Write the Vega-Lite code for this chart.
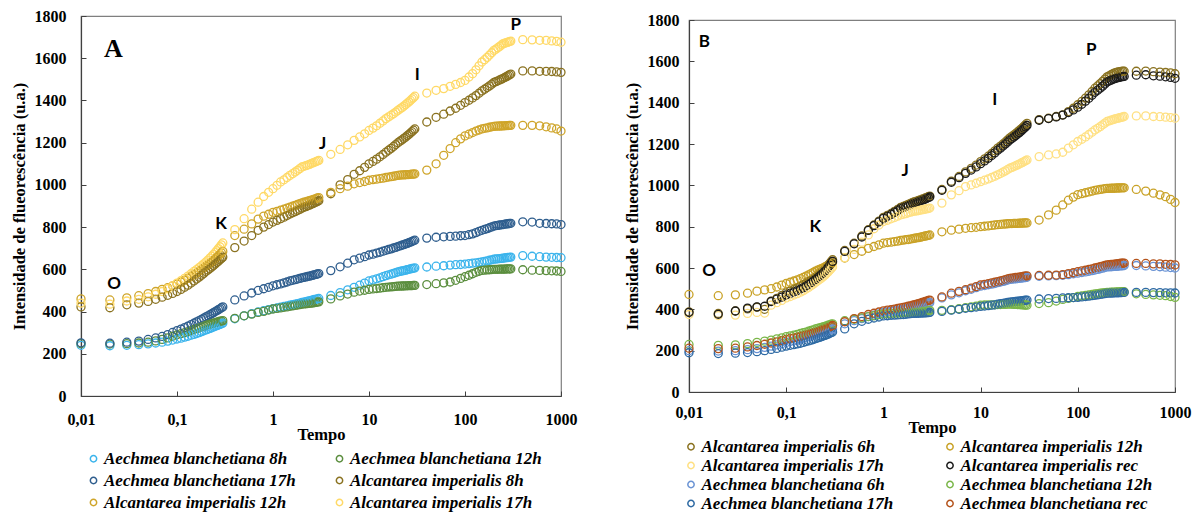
{
"$schema": "https://vega.github.io/schema/vega-lite/v6.json",
"background": "white",
"padding": {"left": 10, "top": 7, "right": 0, "bottom": 0},
"bounds": "flush",
"spacing": 128,
"center": true,
"resolve": {"scale": {"color": "independent", "x": "independent", "y": "independent"}, "legend": {"color": "independent"}},
"config": {
  "font": "Liberation Serif",
  "view": {"stroke": "#7f7f7f", "strokeWidth": 1.2},
  "axis": {"grid": false, "labelFont": "Liberation Serif", "labelFontWeight": "bold", "labelFontSize": 16, "labelColor": "#000", "titleFont": "Liberation Serif", "titleFontWeight": "bold", "titleFontSize": 16.5, "titleColor": "#000", "domainColor": "#404040", "domainWidth": 1.2, "tickColor": "#404040", "tickSize": -5},
  "legend": {"padding": 0, "labelFont": "Liberation Serif", "labelFontStyle": "italic", "labelFontWeight": "bold", "labelFontSize": 17, "labelColor": "#000", "labelLimit": 400, "symbolSize": 40, "symbolStrokeWidth": 1.5, "symbolType": "circle", "labelOffset": 2}
},
"datasets": {
"A": [
{"t":0.01,"a":240,"b":248,"c":252,"d":422,"e":460,"f":440},
{"t":0.02,"a":238,"b":246,"c":250,"d":418,"e":455,"f":435},
{"t":0.03,"a":240,"b":248,"c":255,"d":432,"e":465,"f":450},
{"t":0.04,"a":243,"b":251,"c":260,"d":440,"e":475,"f":458},
{"t":0.05,"a":247,"b":255,"c":268,"d":448,"e":485,"f":470},
{"t":0.06,"a":251,"b":261,"c":275,"d":458,"e":495,"f":482},
{"t":0.07,"a":255,"b":268,"c":282,"d":468,"e":505,"f":495},
{"t":0.08,"a":260,"b":275,"c":291,"d":477,"e":513,"f":508},
{"t":0.09,"a":265,"b":283,"c":301,"d":486,"e":522,"f":522},
{"t":0.10,"a":270,"b":290,"c":310,"d":495,"e":530,"f":535},
{"t":0.11,"a":274,"b":295,"c":317,"d":505,"e":539,"f":546},
{"t":0.12,"a":279,"b":300,"c":324,"d":515,"e":548,"f":557},
{"t":0.13,"a":283,"b":305,"c":331,"d":525,"e":557,"f":568},
{"t":0.14,"a":288,"b":310,"c":338,"d":535,"e":566,"f":579},
{"t":0.15,"a":292,"b":315,"c":345,"d":545,"e":575,"f":590},
{"t":0.16,"a":296,"b":319,"c":351,"d":554,"e":583,"f":599},
{"t":0.17,"a":300,"b":323,"c":357,"d":563,"e":591,"f":608},
{"t":0.18,"a":305,"b":327,"c":363,"d":572,"e":599,"f":617},
{"t":0.19,"a":309,"b":331,"c":369,"d":581,"e":607,"f":626},
{"t":0.20,"a":313,"b":335,"c":375,"d":590,"e":615,"f":635},
{"t":0.21,"a":316,"b":338,"c":380,"d":597,"e":622,"f":644},
{"t":0.22,"a":320,"b":340,"c":385,"d":604,"e":629,"f":653},
{"t":0.23,"a":323,"b":343,"c":390,"d":611,"e":636,"f":662},
{"t":0.24,"a":327,"b":345,"c":395,"d":618,"e":643,"f":671},
{"t":0.25,"a":330,"b":348,"c":400,"d":625,"e":650,"f":680},
{"t":0.26,"a":333,"b":350,"c":404,"d":632,"e":657,"f":689},
{"t":0.27,"a":336,"b":352,"c":409,"d":638,"e":664,"f":698},
{"t":0.28,"a":339,"b":354,"c":413,"d":645,"e":671,"f":707},
{"t":0.29,"a":342,"b":355,"c":418,"d":651,"e":678,"f":716},
{"t":0.30,"a":345,"b":357,"c":422,"d":658,"e":685,"f":725},
{"t":0.4,"a":366,"b":368,"c":455,"d":703,"e":760,"f":788},
{"t":0.5,"a":380,"b":380,"c":474,"d":734,"e":790,"f":840},
{"t":0.6,"a":390,"b":388,"c":488,"d":760,"e":815,"f":885},
{"t":0.7,"a":398,"b":396,"c":500,"d":785,"e":838,"f":918},
{"t":0.8,"a":404,"b":401,"c":508,"d":800,"e":852,"f":945},
{"t":0.9,"a":409,"b":407,"c":515,"d":812,"e":861,"f":965},
{"t":1.0,"a":414,"b":412,"c":522,"d":824,"e":870,"f":982},
{"t":1.1,"a":417,"b":415,"c":527,"d":832,"e":875,"f":998},
{"t":1.2,"a":421,"b":417,"c":531,"d":840,"e":880,"f":1014},
{"t":1.3,"a":424,"b":420,"c":536,"d":847,"e":885,"f":1024},
{"t":1.4,"a":427,"b":422,"c":540,"d":855,"e":890,"f":1035},
{"t":1.5,"a":430,"b":425,"c":545,"d":862,"e":895,"f":1045},
{"t":1.6,"a":433,"b":427,"c":548,"d":868,"e":899,"f":1053},
{"t":1.7,"a":435,"b":429,"c":551,"d":873,"e":903,"f":1061},
{"t":1.8,"a":438,"b":431,"c":554,"d":879,"e":907,"f":1069},
{"t":1.9,"a":440,"b":433,"c":557,"d":884,"e":911,"f":1077},
{"t":2.0,"a":443,"b":435,"c":560,"d":890,"e":915,"f":1085},
{"t":2.1,"a":445,"b":436,"c":562,"d":894,"e":918,"f":1088},
{"t":2.2,"a":447,"b":437,"c":564,"d":897,"e":920,"f":1091},
{"t":2.3,"a":449,"b":438,"c":566,"d":901,"e":923,"f":1094},
{"t":2.4,"a":451,"b":439,"c":568,"d":904,"e":925,"f":1097},
{"t":2.5,"a":453,"b":440,"c":570,"d":908,"e":928,"f":1101},
{"t":2.6,"a":455,"b":441,"c":572,"d":911,"e":930,"f":1104},
{"t":2.7,"a":457,"b":442,"c":574,"d":915,"e":933,"f":1107},
{"t":2.8,"a":458,"b":444,"c":576,"d":918,"e":935,"f":1110},
{"t":2.9,"a":460,"b":445,"c":578,"d":922,"e":938,"f":1113},
{"t":3.0,"a":462,"b":446,"c":580,"d":925,"e":940,"f":1116},
{"t":4,"a":476,"b":460,"c":594,"d":958,"e":965,"f":1145},
{"t":5,"a":490,"b":474,"c":612,"d":1000,"e":982,"f":1168},
{"t":6,"a":503,"b":483,"c":629,"d":1025,"e":994,"f":1190},
{"t":7,"a":515,"b":492,"c":645,"d":1050,"e":1005,"f":1211},
{"t":8,"a":525,"b":497,"c":653,"d":1067,"e":1011,"f":1227},
{"t":9,"a":535,"b":501,"c":660,"d":1083,"e":1016,"f":1242},
{"t":10,"a":545,"b":505,"c":668,"d":1100,"e":1022,"f":1258},
{"t":11,"a":550,"b":507,"c":672,"d":1111,"e":1025,"f":1269},
{"t":12,"a":555,"b":509,"c":677,"d":1122,"e":1027,"f":1280},
{"t":13,"a":560,"b":511,"c":681,"d":1133,"e":1030,"f":1292},
{"t":14,"a":565,"b":513,"c":686,"d":1144,"e":1032,"f":1303},
{"t":15,"a":570,"b":515,"c":690,"d":1155,"e":1035,"f":1314},
{"t":16,"a":574,"b":516,"c":694,"d":1164,"e":1037,"f":1322},
{"t":17,"a":577,"b":517,"c":697,"d":1173,"e":1039,"f":1330},
{"t":18,"a":581,"b":518,"c":701,"d":1182,"e":1041,"f":1337},
{"t":19,"a":584,"b":519,"c":704,"d":1191,"e":1043,"f":1345},
{"t":20,"a":588,"b":520,"c":708,"d":1200,"e":1045,"f":1353},
{"t":21,"a":590,"b":520,"c":711,"d":1207,"e":1046,"f":1360},
{"t":22,"a":592,"b":521,"c":714,"d":1213,"e":1047,"f":1366},
{"t":23,"a":594,"b":521,"c":717,"d":1220,"e":1047,"f":1373},
{"t":24,"a":596,"b":522,"c":720,"d":1226,"e":1048,"f":1380},
{"t":25,"a":598,"b":522,"c":723,"d":1233,"e":1049,"f":1387},
{"t":26,"a":600,"b":523,"c":726,"d":1239,"e":1049,"f":1393},
{"t":27,"a":602,"b":523,"c":729,"d":1246,"e":1050,"f":1400},
{"t":28,"a":604,"b":523,"c":732,"d":1252,"e":1051,"f":1407},
{"t":29,"a":605,"b":524,"c":735,"d":1259,"e":1051,"f":1413},
{"t":30,"a":607,"b":524,"c":738,"d":1265,"e":1052,"f":1420},
{"t":40,"a":611,"b":528,"c":748,"d":1298,"e":1070,"f":1435},
{"t":50,"a":615,"b":532,"c":752,"d":1320,"e":1100,"f":1448},
{"t":60,"a":617,"b":536,"c":754,"d":1335,"e":1140,"f":1456},
{"t":70,"a":620,"b":540,"c":756,"d":1350,"e":1172,"f":1467},
{"t":80,"a":622,"b":548,"c":757,"d":1363,"e":1200,"f":1476},
{"t":90,"a":623,"b":557,"c":759,"d":1377,"e":1218,"f":1485},
{"t":100,"a":625,"b":565,"c":760,"d":1390,"e":1232,"f":1495},
{"t":110,"a":627,"b":572,"c":764,"d":1401,"e":1240,"f":1511},
{"t":120,"a":629,"b":579,"c":768,"d":1412,"e":1248,"f":1527},
{"t":130,"a":631,"b":586,"c":774,"d":1423,"e":1255,"f":1545},
{"t":140,"a":633,"b":591,"c":780,"d":1434,"e":1260,"f":1564},
{"t":150,"a":635,"b":595,"c":785,"d":1445,"e":1265,"f":1582},
{"t":160,"a":638,"b":596,"c":789,"d":1453,"e":1268,"f":1593},
{"t":170,"a":640,"b":597,"c":793,"d":1461,"e":1270,"f":1604},
{"t":180,"a":643,"b":598,"c":797,"d":1469,"e":1273,"f":1615},
{"t":190,"a":645,"b":599,"c":801,"d":1477,"e":1275,"f":1626},
{"t":200,"a":648,"b":600,"c":805,"d":1485,"e":1277,"f":1637},
{"t":210,"a":649,"b":600,"c":807,"d":1489,"e":1278,"f":1643},
{"t":220,"a":650,"b":600,"c":808,"d":1493,"e":1278,"f":1650},
{"t":230,"a":651,"b":601,"c":810,"d":1497,"e":1279,"f":1656},
{"t":240,"a":652,"b":601,"c":811,"d":1501,"e":1279,"f":1663},
{"t":250,"a":653,"b":601,"c":812,"d":1505,"e":1280,"f":1669},
{"t":260,"a":654,"b":601,"c":814,"d":1509,"e":1280,"f":1671},
{"t":270,"a":655,"b":602,"c":815,"d":1513,"e":1281,"f":1674},
{"t":280,"a":656,"b":602,"c":816,"d":1517,"e":1281,"f":1676},
{"t":290,"a":657,"b":602,"c":817,"d":1521,"e":1282,"f":1679},
{"t":300,"a":658,"b":602,"c":818,"d":1525,"e":1282,"f":1681},
{"t":400,"a":665,"b":598,"c":825,"d":1540,"e":1282,"f":1688},
{"t":500,"a":662,"b":596,"c":824,"d":1540,"e":1282,"f":1687},
{"t":600,"a":660,"b":595,"c":818,"d":1538,"e":1280,"f":1685},
{"t":700,"a":658,"b":594,"c":817,"d":1538,"e":1275,"f":1685},
{"t":800,"a":657,"b":593,"c":816,"d":1537,"e":1270,"f":1682},
{"t":900,"a":656,"b":592,"c":815,"d":1535,"e":1265,"f":1680},
{"t":1000,"a":655,"b":590,"c":812,"d":1533,"e":1255,"f":1676}
],
"B": [
{"t":0.01,"g":388,"h":472,"i":375,"j":385,"k":200,"l":230,"m":190,"n":212},
{"t":0.02,"g":380,"h":466,"i":370,"j":376,"k":198,"l":226,"m":186,"n":210},
{"t":0.03,"g":392,"h":470,"i":372,"j":392,"k":200,"l":228,"m":188,"n":212},
{"t":0.04,"g":402,"h":478,"i":380,"j":406,"k":205,"l":234,"m":191,"n":218},
{"t":0.05,"g":410,"h":488,"i":385,"j":412,"k":210,"l":240,"m":195,"n":225},
{"t":0.06,"g":400,"h":494,"i":382,"j":415,"k":216,"l":246,"m":200,"n":231},
{"t":0.07,"g":440,"h":500,"i":420,"j":438,"k":222,"l":251,"m":206,"n":237},
{"t":0.08,"g":453,"h":508,"i":432,"j":449,"k":228,"l":257,"m":211,"n":243},
{"t":0.09,"g":467,"h":517,"i":443,"j":459,"k":234,"l":262,"m":217,"n":249},
{"t":0.10,"g":480,"h":525,"i":455,"j":470,"k":240,"l":268,"m":222,"n":255},
{"t":0.11,"g":488,"h":531,"i":462,"j":477,"k":244,"l":272,"m":226,"n":259},
{"t":0.12,"g":496,"h":537,"i":469,"j":484,"k":248,"l":275,"m":229,"n":262},
{"t":0.13,"g":504,"h":543,"i":476,"j":491,"k":252,"l":279,"m":233,"n":266},
{"t":0.14,"g":512,"h":549,"i":483,"j":498,"k":256,"l":283,"m":236,"n":269},
{"t":0.15,"g":520,"h":555,"i":490,"j":505,"k":260,"l":287,"m":240,"n":273},
{"t":0.16,"g":527,"h":561,"i":498,"j":513,"k":264,"l":290,"m":244,"n":276},
{"t":0.17,"g":534,"h":567,"i":506,"j":521,"k":268,"l":294,"m":247,"n":280},
{"t":0.18,"g":541,"h":573,"i":514,"j":529,"k":272,"l":298,"m":251,"n":283},
{"t":0.19,"g":548,"h":579,"i":522,"j":537,"k":276,"l":301,"m":254,"n":287},
{"t":0.20,"g":555,"h":585,"i":530,"j":545,"k":280,"l":305,"m":258,"n":290},
{"t":0.21,"g":563,"h":589,"i":537,"j":553,"k":283,"l":308,"m":261,"n":293},
{"t":0.22,"g":571,"h":593,"i":544,"j":561,"k":285,"l":310,"m":264,"n":296},
{"t":0.23,"g":579,"h":597,"i":551,"j":569,"k":288,"l":313,"m":268,"n":300},
{"t":0.24,"g":587,"h":601,"i":558,"j":577,"k":290,"l":315,"m":271,"n":303},
{"t":0.25,"g":595,"h":605,"i":565,"j":585,"k":293,"l":318,"m":274,"n":306},
{"t":0.26,"g":604,"h":609,"i":573,"j":594,"k":295,"l":320,"m":277,"n":309},
{"t":0.27,"g":613,"h":613,"i":581,"j":604,"k":298,"l":323,"m":280,"n":312},
{"t":0.28,"g":622,"h":617,"i":589,"j":613,"k":300,"l":325,"m":284,"n":316},
{"t":0.29,"g":631,"h":621,"i":597,"j":623,"k":303,"l":328,"m":287,"n":319},
{"t":0.30,"g":640,"h":625,"i":605,"j":632,"k":305,"l":330,"m":290,"n":322},
{"t":0.4,"g":685,"h":648,"i":650,"j":680,"k":330,"l":345,"m":305,"n":340},
{"t":0.5,"g":720,"h":665,"i":690,"j":717,"k":345,"l":352,"m":330,"n":355},
{"t":0.6,"g":755,"h":681,"i":725,"j":750,"k":355,"l":359,"m":342,"n":365},
{"t":0.7,"g":785,"h":695,"i":760,"j":782,"k":365,"l":365,"m":352,"n":375},
{"t":0.8,"g":808,"h":704,"i":790,"j":805,"k":372,"l":369,"m":358,"n":381},
{"t":0.9,"g":827,"h":712,"i":808,"j":823,"k":378,"l":374,"m":363,"n":387},
{"t":1.0,"g":845,"h":720,"i":825,"j":840,"k":385,"l":378,"m":368,"n":393},
{"t":1.1,"g":855,"h":723,"i":831,"j":850,"k":388,"l":379,"m":369,"n":396},
{"t":1.2,"g":864,"h":725,"i":838,"j":859,"k":390,"l":380,"m":371,"n":398},
{"t":1.3,"g":874,"h":728,"i":844,"j":869,"k":393,"l":381,"m":372,"n":401},
{"t":1.4,"g":883,"h":730,"i":851,"j":878,"k":395,"l":382,"m":373,"n":404},
{"t":1.5,"g":893,"h":733,"i":857,"j":888,"k":398,"l":383,"m":374,"n":407},
{"t":1.6,"g":898,"h":735,"i":860,"j":893,"k":400,"l":384,"m":375,"n":409},
{"t":1.7,"g":903,"h":737,"i":863,"j":898,"k":403,"l":385,"m":376,"n":412},
{"t":1.8,"g":908,"h":738,"i":867,"j":902,"k":405,"l":386,"m":378,"n":415},
{"t":1.9,"g":913,"h":740,"i":870,"j":907,"k":408,"l":387,"m":379,"n":417},
{"t":2.0,"g":918,"h":742,"i":873,"j":912,"k":410,"l":388,"m":380,"n":420},
{"t":2.1,"g":921,"h":744,"i":875,"j":915,"k":412,"l":389,"m":380,"n":423},
{"t":2.2,"g":924,"h":746,"i":876,"j":918,"k":414,"l":389,"m":381,"n":425},
{"t":2.3,"g":927,"h":747,"i":878,"j":922,"k":417,"l":390,"m":381,"n":428},
{"t":2.4,"g":930,"h":749,"i":880,"j":925,"k":419,"l":391,"m":382,"n":430},
{"t":2.5,"g":933,"h":751,"i":882,"j":928,"k":421,"l":391,"m":382,"n":433},
{"t":2.6,"g":936,"h":753,"i":883,"j":931,"k":423,"l":392,"m":383,"n":435},
{"t":2.7,"g":939,"h":755,"i":885,"j":934,"k":425,"l":393,"m":383,"n":438},
{"t":2.8,"g":942,"h":756,"i":887,"j":938,"k":428,"l":393,"m":384,"n":440},
{"t":2.9,"g":945,"h":758,"i":888,"j":941,"k":430,"l":394,"m":384,"n":443},
{"t":3.0,"g":948,"h":760,"i":890,"j":944,"k":432,"l":395,"m":385,"n":445},
{"t":4,"g":980,"h":775,"i":914,"j":976,"k":455,"l":395,"m":390,"n":460},
{"t":5,"g":1020,"h":783,"i":954,"j":1015,"k":470,"l":398,"m":396,"n":478},
{"t":6,"g":1043,"h":788,"i":974,"j":1037,"k":480,"l":403,"m":400,"n":487},
{"t":7,"g":1065,"h":792,"i":994,"j":1058,"k":490,"l":408,"m":405,"n":495},
{"t":8,"g":1082,"h":795,"i":1002,"j":1074,"k":497,"l":412,"m":408,"n":503},
{"t":9,"g":1098,"h":797,"i":1010,"j":1089,"k":505,"l":416,"m":411,"n":510},
{"t":10,"g":1115,"h":800,"i":1018,"j":1105,"k":512,"l":420,"m":414,"n":518},
{"t":11,"g":1128,"h":802,"i":1025,"j":1118,"k":515,"l":421,"m":416,"n":521},
{"t":12,"g":1141,"h":804,"i":1031,"j":1131,"k":519,"l":421,"m":418,"n":524},
{"t":13,"g":1154,"h":806,"i":1038,"j":1144,"k":522,"l":422,"m":420,"n":528},
{"t":14,"g":1167,"h":808,"i":1044,"j":1157,"k":525,"l":422,"m":422,"n":531},
{"t":15,"g":1180,"h":810,"i":1051,"j":1170,"k":529,"l":423,"m":425,"n":534},
{"t":16,"g":1190,"h":811,"i":1057,"j":1180,"k":532,"l":423,"m":427,"n":537},
{"t":17,"g":1200,"h":812,"i":1064,"j":1190,"k":535,"l":424,"m":429,"n":540},
{"t":18,"g":1210,"h":813,"i":1070,"j":1200,"k":538,"l":424,"m":431,"n":544},
{"t":19,"g":1220,"h":814,"i":1077,"j":1210,"k":542,"l":425,"m":433,"n":547},
{"t":20,"g":1230,"h":815,"i":1083,"j":1220,"k":545,"l":425,"m":435,"n":550},
{"t":21,"g":1237,"h":815,"i":1087,"j":1227,"k":546,"l":425,"m":436,"n":551},
{"t":22,"g":1244,"h":816,"i":1091,"j":1234,"k":547,"l":424,"m":437,"n":552},
{"t":23,"g":1251,"h":816,"i":1095,"j":1241,"k":548,"l":424,"m":438,"n":554},
{"t":24,"g":1258,"h":816,"i":1099,"j":1248,"k":549,"l":423,"m":439,"n":555},
{"t":25,"g":1265,"h":817,"i":1103,"j":1255,"k":550,"l":423,"m":440,"n":556},
{"t":26,"g":1272,"h":817,"i":1107,"j":1262,"k":551,"l":422,"m":441,"n":557},
{"t":27,"g":1279,"h":817,"i":1111,"j":1269,"k":552,"l":422,"m":442,"n":558},
{"t":28,"g":1286,"h":818,"i":1115,"j":1276,"k":553,"l":421,"m":443,"n":560},
{"t":29,"g":1293,"h":818,"i":1119,"j":1283,"k":554,"l":421,"m":444,"n":561},
{"t":30,"g":1300,"h":818,"i":1123,"j":1290,"k":555,"l":420,"m":445,"n":562},
{"t":40,"g":1318,"h":832,"i":1139,"j":1315,"k":560,"l":428,"m":450,"n":564},
{"t":50,"g":1325,"h":857,"i":1147,"j":1323,"k":562,"l":432,"m":452,"n":565},
{"t":60,"g":1333,"h":880,"i":1152,"j":1331,"k":563,"l":440,"m":453,"n":566},
{"t":70,"g":1341,"h":905,"i":1160,"j":1340,"k":565,"l":448,"m":455,"n":568},
{"t":80,"g":1357,"h":928,"i":1180,"j":1352,"k":568,"l":453,"m":456,"n":573},
{"t":90,"g":1373,"h":943,"i":1196,"j":1365,"k":572,"l":457,"m":457,"n":577},
{"t":100,"g":1390,"h":955,"i":1212,"j":1378,"k":575,"l":462,"m":458,"n":582},
{"t":110,"g":1406,"h":960,"i":1223,"j":1392,"k":578,"l":465,"m":460,"n":586},
{"t":120,"g":1422,"h":964,"i":1234,"j":1407,"k":581,"l":467,"m":462,"n":589},
{"t":130,"g":1438,"h":968,"i":1246,"j":1421,"k":584,"l":470,"m":464,"n":593},
{"t":140,"g":1454,"h":972,"i":1257,"j":1436,"k":587,"l":472,"m":466,"n":596},
{"t":150,"g":1470,"h":976,"i":1268,"j":1450,"k":590,"l":475,"m":468,"n":600},
{"t":160,"g":1481,"h":978,"i":1276,"j":1460,"k":593,"l":476,"m":470,"n":603},
{"t":170,"g":1492,"h":980,"i":1284,"j":1470,"k":596,"l":478,"m":472,"n":606},
{"t":180,"g":1503,"h":982,"i":1293,"j":1480,"k":599,"l":479,"m":474,"n":609},
{"t":190,"g":1514,"h":984,"i":1301,"j":1490,"k":602,"l":481,"m":476,"n":612},
{"t":200,"g":1525,"h":985,"i":1309,"j":1500,"k":605,"l":482,"m":478,"n":615},
{"t":210,"g":1530,"h":985,"i":1312,"j":1505,"k":606,"l":482,"m":478,"n":616},
{"t":220,"g":1535,"h":986,"i":1315,"j":1509,"k":606,"l":483,"m":479,"n":617},
{"t":230,"g":1540,"h":986,"i":1318,"j":1513,"k":607,"l":483,"m":479,"n":618},
{"t":240,"g":1544,"h":986,"i":1321,"j":1516,"k":608,"l":483,"m":480,"n":619},
{"t":250,"g":1547,"h":987,"i":1323,"j":1519,"k":608,"l":484,"m":480,"n":620},
{"t":260,"g":1549,"h":987,"i":1325,"j":1521,"k":609,"l":484,"m":480,"n":621},
{"t":270,"g":1550,"h":987,"i":1327,"j":1523,"k":610,"l":484,"m":481,"n":622},
{"t":280,"g":1551,"h":988,"i":1329,"j":1525,"k":611,"l":485,"m":481,"n":623},
{"t":290,"g":1552,"h":988,"i":1331,"j":1526,"k":611,"l":485,"m":482,"n":623},
{"t":300,"g":1552,"h":988,"i":1333,"j":1527,"k":612,"l":485,"m":482,"n":624},
{"t":400,"g":1552,"h":980,"i":1336,"j":1533,"k":612,"l":475,"m":482,"n":622},
{"t":500,"g":1553,"h":972,"i":1336,"j":1535,"k":610,"l":472,"m":482,"n":622},
{"t":600,"g":1550,"h":962,"i":1333,"j":1530,"k":608,"l":470,"m":481,"n":620},
{"t":700,"g":1548,"h":954,"i":1332,"j":1528,"k":606,"l":468,"m":481,"n":620},
{"t":800,"g":1546,"h":945,"i":1330,"j":1525,"k":604,"l":466,"m":480,"n":618},
{"t":900,"g":1544,"h":932,"i":1328,"j":1522,"k":602,"l":462,"m":480,"n":617},
{"t":1000,"g":1540,"h":917,"i":1325,"j":1518,"k":600,"l":458,"m":479,"n":615}
],
"LA": [
{"t":0.0218,"v":1645,"txt":"A","kind":"panel"},
{"t":0.0221,"v":530,"txt":"O","kind":"step"},
{"t":0.288,"v":814,"txt":"K","kind":"step"},
{"t":3.3,"v":1195,"txt":"J","kind":"step"},
{"t":31.9,"v":1519,"txt":"I","kind":"step"},
{"t":338,"v":1756,"txt":"P","kind":"step"}
],
"LB": [
{"t":0.0144,"v":1692,"txt":"B"},
{"t":0.0161,"v":585,"txt":"O"},
{"t":0.199,"v":796,"txt":"K"},
{"t":1.67,"v":1070,"txt":"J"},
{"t":14.0,"v":1412,"txt":"I"},
{"t":137.7,"v":1655,"txt":"P"}
]
},
"hconcat": [
{
  "width": 480, "height": 380,
  "layer": [
    {
      "data": {"name": "A"},
      "transform": [{"fold": ["a","b","c","d","e","f"], "as": ["s","v"]}],
      "mark": {"type": "point", "shape": "circle", "filled": false, "size": 64, "strokeWidth": 1.3, "opacity": 1},
      "encoding": {
        "x": {"field": "t", "type": "quantitative", "scale": {"type": "log", "domain": [0.01, 1000], "nice": false},
              "axis": {"values": [0.01,0.1,1,10,100,1000], "labelExpr": "replace(toString(datum.value), '.', ',')", "title": "Tempo", "labelPadding": 20, "titlePadding": -1, "labelFlush": false}},
        "y": {"field": "v", "type": "quantitative", "scale": {"domain": [0,1800], "nice": false},
              "axis": {"values": [0,200,400,600,800,1000,1200,1400,1600,1800], "format": "d", "title": "Intensidade de flueorescência (u.a.)", "labelPadding": 20, "titlePadding": 7}},
        "color": {"field": "s", "type": "nominal",
                  "scale": {"domain": ["a","b","c","d","e","f"], "range": ["#3BB4EC","#5B8E3E","#2F5E8E","#8A7220","#CFA52A","#FFD966"]},
                  "legend": {"orient": "none", "direction": "horizontal", "legendX": 4, "legendY": 434, "columns": 2, "columnPadding": 35, "rowPadding": 4, "title": null,
                             "labelFont": "Liberation Serif", "labelFontStyle": "italic", "labelFontWeight": "bold", "labelFontSize": 17,
                             "labelExpr": "{'a':'Aechmea blanchetiana 8h','b':'Aechmea blanchetiana 12h','c':'Aechmea blanchetiana 17h','d':'Alcantarea imperialis 8h','e':'Alcantarea imperialis 12h','f':'Alcantarea imperialis 17h'}[datum.label]"}}
      }
    },
    {
      "data": {"name": "LA"},
      "transform": [{"filter": "datum.kind == 'panel'"}],
      "mark": {"type": "text", "font": "Liberation Serif", "fontWeight": "bold", "fontSize": 26, "align": "center", "baseline": "middle", "color": "#000"},
      "encoding": {"x": {"field": "t", "type": "quantitative"}, "y": {"field": "v", "type": "quantitative"}, "text": {"field": "txt"}}
    },
    {
      "data": {"name": "LA"},
      "transform": [{"filter": "datum.kind == 'step'"}],
      "mark": {"type": "text", "font": "Lato", "fontWeight": "bold", "fontSize": 17, "align": "center", "baseline": "middle", "color": "#000"},
      "encoding": {"x": {"field": "t", "type": "quantitative"}, "y": {"field": "v", "type": "quantitative"}, "text": {"field": "txt"}}
    }
  ]
},
{
  "width": 486, "height": 372,
  "layer": [
    {
      "data": {"name": "B"},
      "transform": [{"fold": ["g","h","i","j","k","l","m","n"], "as": ["s","v"]}],
      "mark": {"type": "point", "shape": "circle", "filled": false, "size": 64, "strokeWidth": 1.3, "opacity": 1},
      "encoding": {
        "x": {"field": "t", "type": "quantitative", "scale": {"type": "log", "domain": [0.01, 1000], "nice": false},
              "axis": {"values": [0.01,0.1,1,10,100,1000], "labelExpr": "replace(toString(datum.value), '.', ',')", "title": "Tempo", "labelPadding": 17, "titlePadding": -1, "labelFlush": false}},
        "y": {"field": "v", "type": "quantitative", "scale": {"domain": [0,1800], "nice": false},
              "axis": {"values": [0,200,400,600,800,1000,1200,1400,1600,1800], "format": "d", "title": "Intensidade de flueorescência (u.a.)", "labelPadding": 15, "titlePadding": 7}},
        "color": {"field": "s", "type": "nominal",
                  "scale": {"domain": ["g","h","i","j","k","l","m","n"], "range": ["#8A7220","#C9A227","#FFE082","#1A1A1A","#6A93D4","#7AB648","#2E6AA3","#B4531B"]},
                  "legend": {"orient": "none", "direction": "horizontal", "legendX": -6.5, "legendY": 418, "columns": 2, "columnPadding": 48, "rowPadding": 1, "title": null,
                             "labelFont": "Liberation Serif", "labelFontStyle": "italic", "labelFontWeight": "bold", "labelFontSize": 17,
                             "labelExpr": "{'g':'Alcantarea imperialis 6h','h':'Alcantarea imperialis 12h','i':'Alcantarea imperialis 17h','j':'Alcantarea imperialis rec','k':'Aechmea blanchetiana 6h','l':'Aechmea blanchetiana 12h','m':'Aechmea blanchetiana 17h','n':'Aechmea blanchetiana rec'}[datum.label]"}}
      }
    },
    {
      "data": {"name": "LB"},
      "mark": {"type": "text", "font": "Lato", "fontWeight": "bold", "fontSize": 17, "align": "center", "baseline": "middle", "color": "#000"},
      "encoding": {"x": {"field": "t", "type": "quantitative"}, "y": {"field": "v", "type": "quantitative"}, "text": {"field": "txt"}}
    }
  ]
}
]
}
